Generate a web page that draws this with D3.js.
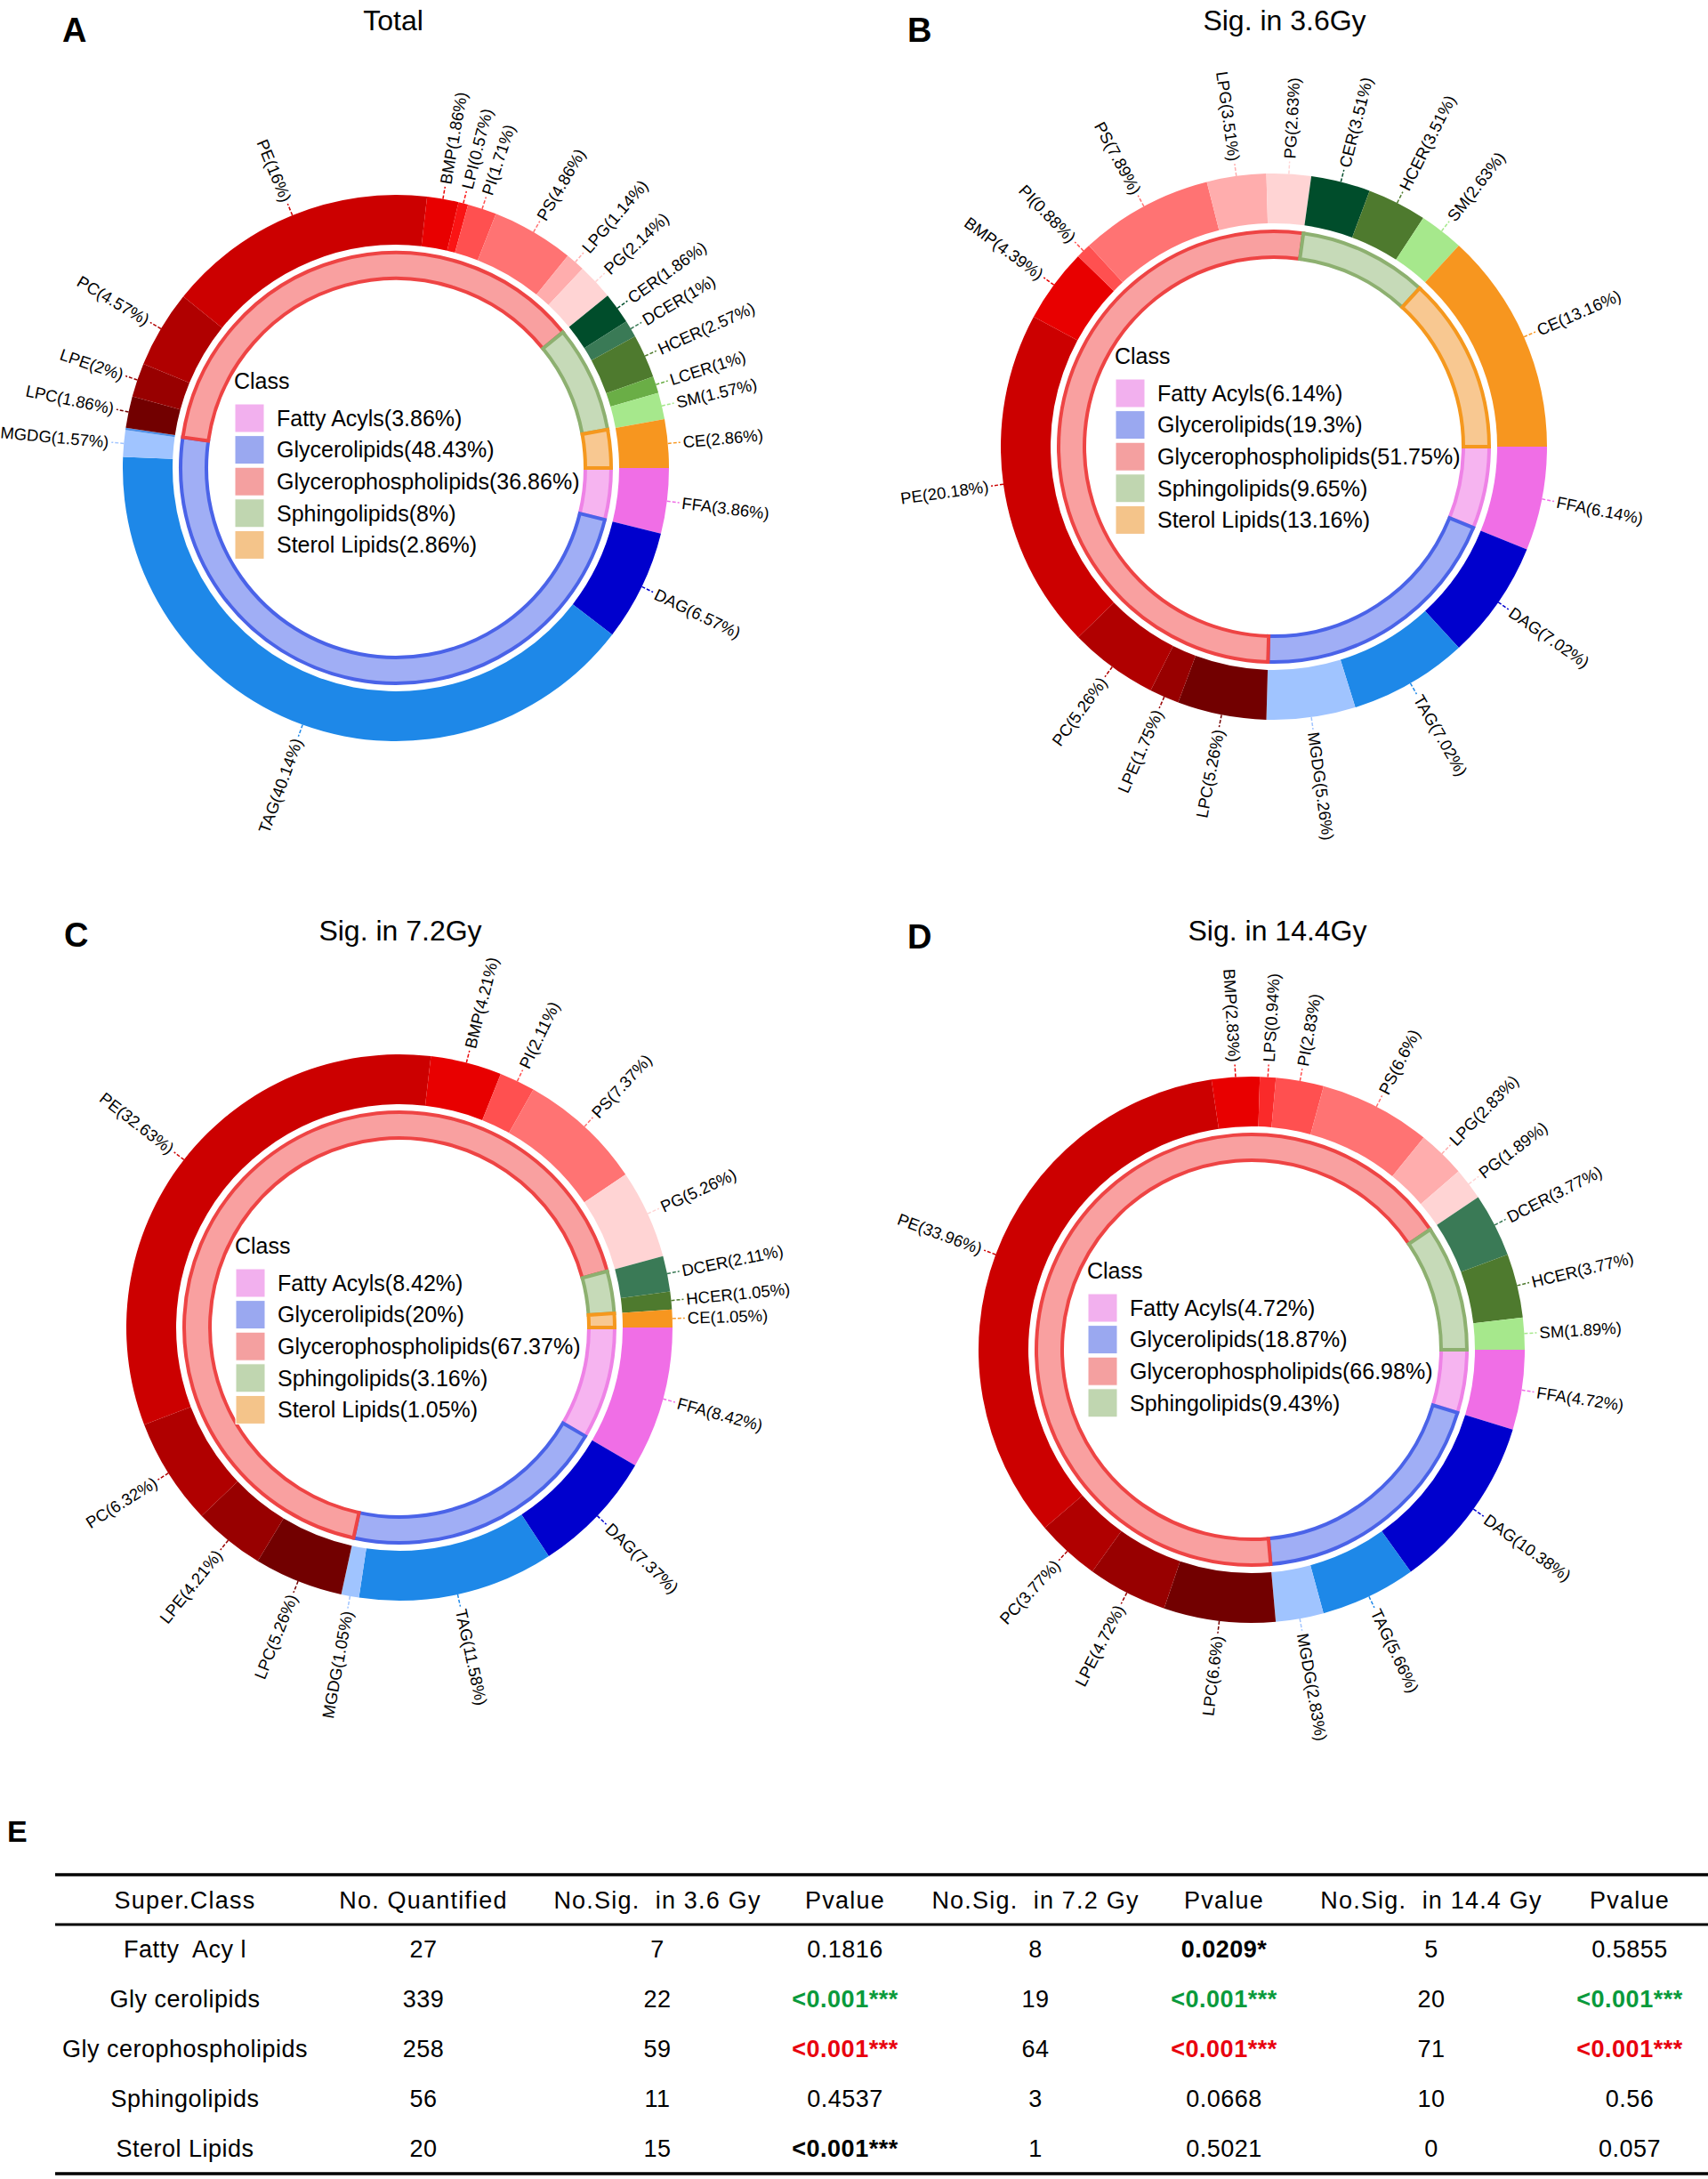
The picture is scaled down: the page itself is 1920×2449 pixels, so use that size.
<!DOCTYPE html>
<html>

<head>
    <meta charset="utf-8">
    <script src="https://cdn.jsdelivr.net/npm/d3@7"></script>
    <style>
        body {
            margin: 0;
            background: #fff;
        }

        text {
            font-family: "Liberation Sans", Arial, sans-serif;
            fill: #000;
        }
    </style>
</head>

<body>

    <script>

        // ---- inner ring: lipid classes (percent) ----
        var classNames = ["Fatty Acyls", "Glycerolipids", "Glycerophospholipids", "Sphingolipids", "Sterol Lipids"];
        var classPctTotal = [3.86, 48.43, 36.86, 8, 2.86];
        var classPct36 = [6.14, 19.3, 51.75, 9.65, 13.16];
        var classPct72 = [8.42, 20, 67.37, 3.16, 1.05];
        var classPct144 = [4.72, 18.87, 66.98, 9.43];

        // ---- outer ring: sub classes, clockwise from 3 o'clock ----
        var subTotal = ["FFA", "DAG", "TAG", "MGDG", "", "LPC", "LPE", "PC", "PE", "BMP", "LPI", "PI", "PS", "LPG", "PG", "CER", "DCER", "HCER", "LCER", "SM", "CE"];
        var subPctTotal = [3.86, 6.57, 40.14, 1.57, 0.14, 1.86, 2, 4.57, 16, 1.86, 0.57, 1.71, 4.86, 1.14, 2.14, 1.86, 1, 2.57, 1, 1.57, 2.86];

        var sub36 = ["FFA", "DAG", "TAG", "MGDG", "LPC", "LPE", "PC", "PE", "BMP", "PI", "PS", "LPG", "PG", "CER", "HCER", "SM", "CE"];
        var subPct36 = [6.14, 7.02, 7.02, 5.26, 5.26, 1.75, 5.26, 20.18, 4.39, 0.88, 7.89, 3.51, 2.63, 3.51, 3.51, 2.63, 13.16];

        var sub72 = ["FFA", "DAG", "TAG", "MGDG", "LPC", "LPE", "PC", "PE", "BMP", "PI", "PS", "PG", "DCER", "HCER", "CE"];
        var subPct72 = [8.42, 7.37, 11.58, 1.05, 5.26, 4.21, 6.32, 32.63, 4.21, 2.11, 7.37, 5.26, 2.11, 1.05, 1.05];

        var sub144 = ["FFA", "DAG", "TAG", "MGDG", "LPC", "LPE", "PC", "PE", "BMP", "LPS", "PI", "PS", "LPG", "PG", "DCER", "HCER", "SM"];
        var subPct144 = [4.72, 10.38, 5.66, 2.83, 6.6, 4.72, 3.77, 33.96, 2.83, 0.94, 2.83, 6.6, 2.83, 1.89, 3.77, 3.77, 1.89];

        // ---- table E ----
        var tableHeader = ["Super.Class", "No. Quantified", "No.Sig.  in 3.6 Gy", "Pvalue", "No.Sig.  in 7.2 Gy", "Pvalue", "No.Sig.  in 14.4 Gy", "Pvalue"];
        var superClass = ["Fatty  Acy l", "Gly cerolipids", "Gly cerophospholipids", "Sphingolipids", "Sterol Lipids"];
        var quantified = [27, 339, 258, 56, 20];
        var sig36 = [7, 22, 59, 11, 15];
        var pval36 = ["0.1816", "<0.001***", "<0.001***", "0.4537", "<0.001***"];
        var sig72 = [8, 19, 64, 3, 1];
        var pval72 = ["0.0209*", "<0.001***", "<0.001***", "0.0668", "0.5021"];
        var sig144 = [5, 20, 71, 10, 0];
        var pval144 = ["0.5855", "<0.001***", "<0.001***", "0.56", "0.057"];

        // colours
        var subColor = {
            FFA: "#f06ee6", DAG: "#0000cd", TAG: "#1e88e8", MGDG: "#a0c4ff", "": "#4f8fe6",
            LPC: "#720000", LPE: "#980000", PC: "#b00000", PE: "#cc0000", BMP: "#e80000",
            LPI: "#fa1414", LPS: "#fa2a2a", PI: "#ff5050", PS: "#ff7373", LPG: "#ffadad", PG: "#ffd4d4",
            CER: "#004d2b", DCER: "#3a7a56", HCER: "#4e7a2e", LCER: "#6aae46", SM: "#a6e88c", CE: "#f7961f"
        };
        var classFill = ["#f6b4f0", "#a0aef5", "#f9a0a0", "#c6dab8", "#f8c891"];
        var classStroke = ["#ee82e6", "#4a63e8", "#ee4444", "#8db070", "#f5981e"];
        var legendFill = ["#f2b0ee", "#9aa8f0", "#f4a0a0", "#c0d6b0", "#f4c48a"];

        var panels = [
            { letter: "A", title: "Total", cls: classPctTotal, sub: subTotal, pct: subPctTotal, cx: 445, cy: 526, tx: 442, ty: 34, lx: 70, ly: 47, gx: 263, gy: 428 },
            { letter: "B", title: "Sig. in 3.6Gy", cls: classPct36, sub: sub36, pct: subPct36, cx: 1432, cy: 502, tx: 1444, ty: 34, lx: 1020, ly: 47, gx: 1253, gy: 400 },
            { letter: "C", title: "Sig. in 7.2Gy", cls: classPct72, sub: sub72, pct: subPct72, cx: 449, cy: 1492, tx: 450, ty: 1057, lx: 72, ly: 1064, gx: 264, gy: 1400 },
            { letter: "D", title: "Sig. in 14.4Gy", cls: classPct144, sub: sub144, pct: subPct144, cx: 1407, cy: 1517, tx: 1436, ty: 1057, lx: 1020, ly: 1066, gx: 1222, gy: 1428 }
        ];

        var svg = d3.select('body')
            .append('svg')
            .attr('width', 1920)
            .attr('height', 2449);

        var pie = d3.pie()
            .sort(null)
            .value(function (d) { return d.v; })
            .startAngle(Math.PI / 2)
            .endAngle(Math.PI / 2 + 2 * Math.PI);

        var outerArc = d3.arc().innerRadius(251).outerRadius(307);
        var innerArc = d3.arc().innerRadius(213).outerRadius(242);
        var rLine0 = 307, rLine1 = 321, rText = 324;

        panels.forEach(function (p) {

            // panel letter and title
            svg.append('text')
                .attr('x', p.lx).attr('y', p.ly)
                .style('font-size', '38px').style('font-weight', 'bold')
                .text(p.letter);

            svg.append('text')
                .attr('x', p.tx).attr('y', p.ty)
                .attr('text-anchor', 'middle')
                .style('font-size', '32px')
                .text(p.title);

            var g = svg.append('g')
                .attr('transform', 'translate(' + p.cx + ',' + p.cy + ')');

            // outer ring
            var outerData = pie(p.sub.map(function (s, i) { return { name: s, v: p.pct[i] }; }));

            g.selectAll('path.outer')
                .data(outerData)
                .enter().append('path')
                .attr('class', 'outer')
                .attr('d', outerArc)
                .attr('fill', function (d) { return subColor[d.data.name]; });

            // inner ring
            var innerData = pie(p.cls.map(function (v, i) { return { i: i, v: v }; }));

            g.selectAll('path.inner')
                .data(innerData)
                .enter().append('path')
                .attr('class', 'inner')
                .attr('d', innerArc)
                .attr('fill', function (d) { return classFill[d.data.i]; })
                .attr('stroke', function (d) { return classStroke[d.data.i]; })
                .attr('stroke-width', 4)
                .attr('stroke-linejoin', 'miter');

            // leader lines + labels (radial text)
            var labelled = outerData.filter(function (d) { return d.data.name !== ""; });

            labelled.forEach(function (d) {
                var a = (d.startAngle + d.endAngle) / 2;
                var sx = Math.sin(a), sy = -Math.cos(a);
                var col = subColor[d.data.name];
                g.append('line')
                    .attr('x1', sx * rLine0).attr('y1', sy * rLine0)
                    .attr('x2', sx * rLine1).attr('y2', sy * rLine1)
                    .attr('stroke', col)
                    .attr('stroke-width', 1.5)
                    .attr('stroke-dasharray', '4,2');

                var deg = a * 180 / Math.PI;
                var right = (deg % 360) < 180;
                var rot = right ? deg - 90 : deg + 90;
                g.append('text')
                    .attr('transform', 'translate(' + (sx * rText) + ',' + (sy * rText) + ') rotate(' + rot + ')')
                    .attr('text-anchor', right ? 'start' : 'end')
                    .attr('dy', '0.35em')
                    .style('font-size', '18.5px')
                    .text(d.data.name + '(' + d.data.v + '%)');
            });

            // legend
            var leg = svg.append('g');
            leg.append('text')
                .attr('x', p.gx).attr('y', p.gy)
                .attr('dy', '0.35em')
                .style('font-size', '25px')
                .text('Class');

            var item = leg.selectAll('g.item')
                .data(p.cls)
                .enter().append('g')
                .attr('class', 'item')
                .attr('transform', function (d, i) { return 'translate(' + (p.gx + 1) + ',' + (p.gy + 26 + i * 35.6) + ')'; });

            item.append('rect')
                .attr('width', 33).attr('height', 32)
                .attr('fill', function (d, i) { return legendFill[i]; })
                .attr('stroke', '#fff').attr('stroke-width', 1);

            item.append('text')
                .attr('x', 47).attr('y', 16)
                .attr('dy', '0.35em')
                .style('font-size', '25px')
                .text(function (d, i) { return classNames[i] + '(' + d + '%)'; });
        });

        // ---- table E ----
        svg.append('text')
            .attr('x', 8).attr('y', 2070)
            .style('font-size', '34px').style('font-weight', 'bold')
            .text('E');

        var colX = [208, 476, 739, 950, 1164, 1376, 1609, 1832];
        var y = d3.scalePoint().domain(superClass).range([2191, 2415]);
        var headerY = 2136;

        [[2107, 3.5], [2163, 3], [2443, 3.5]].forEach(function (l) {
            svg.append('line')
                .attr('x1', 62).attr('x2', 1920)
                .attr('y1', l[0]).attr('y2', l[0])
                .attr('stroke', '#000').attr('stroke-width', l[1]);
        });

        svg.selectAll('text.head')
            .data(tableHeader)
            .enter().append('text')
            .attr('class', 'head')
            .attr('x', function (d, i) { return colX[i]; })
            .attr('y', headerY)
            .attr('dy', '0.35em')
            .attr('text-anchor', 'middle')
            .style('font-size', '27px')
            .style('letter-spacing', '1.2px')
            .style('white-space', 'pre')
            .text(function (d) { return d; });

        var tone = { "Gly cerolipids": "#0a9a3c", "Gly cerophospholipids": "#e8000e" };

        superClass.forEach(function (name, r) {
            var cells = [name, quantified[r], sig36[r], pval36[r], sig72[r], pval72[r], sig144[r], pval144[r]];
            cells.forEach(function (c, i) {
                var t = svg.append('text')
                    .attr('x', colX[i])
                    .attr('y', y(name))
                    .attr('dy', '0.35em')
                    .attr('text-anchor', 'middle')
                    .style('font-size', '27px')
                    .style('letter-spacing', '0.5px')
                    .style('white-space', 'pre')
                    .text(c);
                if (i === 3 || i === 5 || i === 7) {
                    var s = String(c);
                    var sig = s.charAt(0) === '<' || parseFloat(s) < 0.05;
                    if (sig) {
                        t.style('font-weight', 'bold')
                            .style('fill', tone[name] || '#000');
                    }
                }
            });
        });
    </script>

</body>

</html>
